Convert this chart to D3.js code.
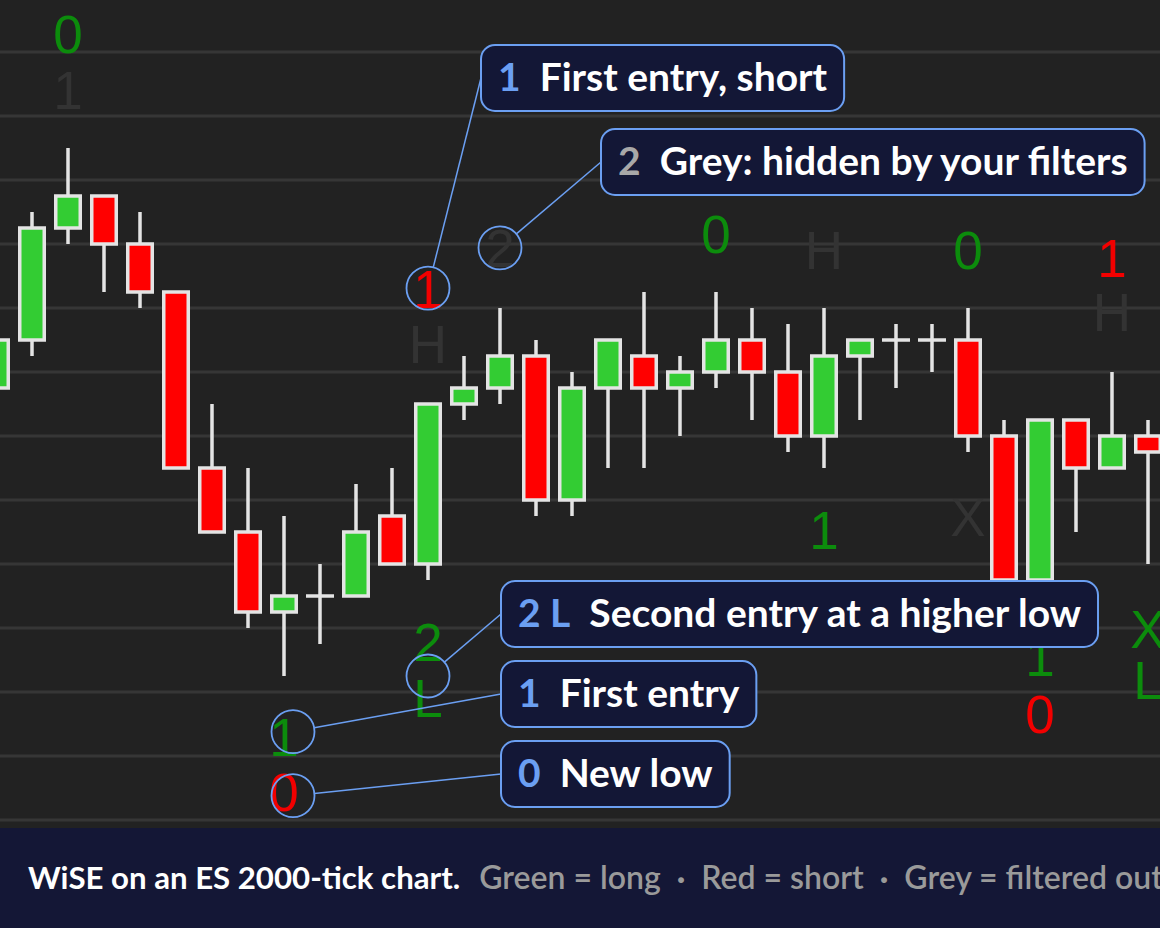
<!DOCTYPE html>
<meta charset="utf-8">
<title>WiSE on an ES 2000-tick chart</title>
<script src="https://cdn.jsdelivr.net/npm/d3@7"></script>
<style>
  body { margin: 0; background: #222222; overflow: hidden; }
  svg { display: block; }
</style>
<body>
<div id="chart"></div>
<script>
// ES 2000-tick bars, prices (0.25 = one tick)
var open  = [4496.75, 4497.50, 4499.25, 4499.75, 4499.00, 4498.25, 4495.50, 4494.50, 4493.25, 4493.50,
             4493.50, 4494.75, 4494.00, 4496.50, 4496.75, 4497.25, 4495.00, 4496.75, 4497.25, 4496.75,
             4497.00, 4497.50, 4497.00, 4496.00, 4497.25, 4497.50, 4497.50, 4497.50, 4496.00, 4493.75,
             4496.25, 4495.50, 4496.00];
var high  = [4497.75, 4499.50, 4500.50, 4499.75, 4499.50, 4498.25, 4496.50, 4495.50, 4494.75, 4494.00,
             4495.25, 4495.50, 4496.50, 4497.25, 4498.00, 4497.50, 4497.00, 4497.50, 4498.25, 4497.25,
             4498.25, 4498.00, 4497.75, 4498.00, 4497.50, 4497.75, 4497.75, 4498.00, 4496.25, 4496.25,
             4496.25, 4497.00, 4496.25];
var low   = [4496.50, 4497.25, 4499.00, 4498.25, 4498.00, 4495.50, 4494.50, 4493.00, 4492.25, 4492.75,
             4493.50, 4494.00, 4493.75, 4496.25, 4496.50, 4494.75, 4494.75, 4495.50, 4495.50, 4496.00,
             4496.75, 4496.25, 4495.75, 4495.50, 4496.25, 4496.75, 4497.00, 4495.75, 4493.50, 4493.25,
             4494.50, 4495.50, 4494.00];
var close = [4497.50, 4499.25, 4499.75, 4499.00, 4498.25, 4495.50, 4494.50, 4493.25, 4493.50, 4493.50,
             4494.50, 4494.00, 4496.50, 4496.75, 4497.25, 4495.00, 4496.75, 4497.50, 4496.75, 4497.00,
             4497.50, 4497.00, 4496.00, 4497.25, 4497.50, 4497.50, 4497.50, 4496.00, 4493.75, 4496.25,
             4495.50, 4496.00, 4495.75];

// WiSE setup labels printed on the chart
var labelBar   = [2, 2, 12, 12, 14, 20, 23, 27, 31, 31, 23, 27, 32, 32, 29, 29, 12, 12, 8, 8];
var labelPrice = [4502.28, 4501.40, 4498.30, 4497.43, 4498.94, 4499.15, 4498.90, 4498.90, 4498.78, 4497.93,
                  4494.53, 4494.73, 4492.98, 4492.18, 4492.55, 4491.65, 4492.78, 4491.90, 4491.30, 4490.43];
var labelText  = ["0", "1", "1", "H", "2", "0", "H", "0", "1", "H",
                  "1", "X", "X", "L", "1", "0", "2", "L", "1", "0"];
var labelKind  = ["long", "grey", "short", "grey", "grey", "long", "grey", "long", "short", "grey",
                  "long", "grey", "long", "long", "long", "short", "long", "long", "long", "short"];

// callouts: circled point on the chart and the explanation box
var calloutBar   = [12, 14, 12, 8.25, 8.25];
var calloutPrice = [4498.31, 4498.94, 4492.25, 4491.38, 4490.38];
var calloutNum   = ["1", "2", "2 L", "1", "0"];
var calloutNumGrey = [false, true, false, false, false];
var calloutText  = ["First entry, short", "Grey: hidden by your filters", "Second entry at a higher low",
                    "First entry", "New low"];

var caption = "WiSE on an ES 2000-tick chart.";
var legendParts = ["Green = long", "Red = short", "Grey = filtered out"];

// layout
var width = 1160, height = 928, bandTop = 828;
var boxPos = [[481, 45], [601, 129], [501, 581], [501, 661], [501, 741]];
var boxH = 66;

var colors = {
  bg: "#222222", grid: "#363636", up: "#33cc33", down: "#ff0000", edge: "#e4e4e4",
  long: "#0c8c0c", short: "#f20000", grey: "#333333",
  box: "#131736", blue: "#6b9ff2", band: "#141736"
};

var svg = d3.select("#chart")
  .append("svg")
    .attr("width", width)
    .attr("height", height);

svg.append("rect")
  .attr("width", width).attr("height", height)
  .attr("fill", colors.bg);

var x = d3.scaleLinear().domain([0, 32]).range([-4, 1148]);
var y = d3.scaleLinear().domain([4490, 4502]).range([820, 52]);

// horizontal grid, one line per point
svg.append("g")
  .selectAll("line")
  .data(d3.range(4490, 4503))
  .join("line")
    .attr("x1", 0).attr("x2", width)
    .attr("y1", function(d) { return y(d); })
    .attr("y2", function(d) { return y(d); })
    .attr("stroke", colors.grid)
    .attr("stroke-width", 3);

var bars = d3.range(open.length).map(function(i) {
  return { i: i, o: open[i], h: high[i], l: low[i], c: close[i] };
});

var candle = svg.append("g").selectAll("g")
  .data(bars)
  .join("g");

// wicks
candle.append("line")
  .attr("x1", function(d) { return x(d.i); })
  .attr("x2", function(d) { return x(d.i); })
  .attr("y1", function(d) { return y(d.h); })
  .attr("y2", function(d) { return y(d.l); })
  .attr("stroke", colors.edge)
  .attr("stroke-width", 3.5);

// bodies (doji drawn as a flat bar)
var bw = 24.5;
candle.filter(function(d) { return d.o !== d.c; })
  .append("rect")
    .attr("x", function(d) { return x(d.i) - bw / 2; })
    .attr("width", bw)
    .attr("y", function(d) { return y(Math.max(d.o, d.c)); })
    .attr("height", function(d) { return Math.abs(y(d.o) - y(d.c)); })
    .attr("fill", function(d) { return d.c > d.o ? colors.up : colors.down; })
    .attr("stroke", colors.edge)
    .attr("stroke-width", 3.5);

candle.filter(function(d) { return d.o === d.c; })
  .append("line")
    .attr("x1", function(d) { return x(d.i) - 14; })
    .attr("x2", function(d) { return x(d.i) + 14; })
    .attr("y1", function(d) { return y(d.o); })
    .attr("y2", function(d) { return y(d.o); })
    .attr("stroke", colors.edge)
    .attr("stroke-width", 3.5);

// setup labels
svg.append("g")
  .selectAll("text")
  .data(labelText)
  .join("text")
    .attr("x", function(d, i) { return x(labelBar[i]); })
    .attr("y", function(d, i) { return y(labelPrice[i]) + 19; })
    .attr("text-anchor", "middle")
    .attr("font-family", "'Liberation Sans', Arial, sans-serif")
    .attr("font-size", 53)
    .attr("fill", function(d, i) { return colors[labelKind[i]]; })
    .text(function(d) { return d; });

// callouts
var r = 21.5;
var co = svg.append("g");
calloutText.forEach(function(txt, i) {
  var cx = x(calloutBar[i]), cy = y(calloutPrice[i]);
  var bx = boxPos[i][0], by = boxPos[i][1];
  var tx = bx, ty = by + boxH / 2;
  var dx = tx - cx, dy = ty - cy, len = Math.sqrt(dx * dx + dy * dy);

  co.append("line")
    .attr("x1", cx + r * dx / len).attr("y1", cy + r * dy / len)
    .attr("x2", tx).attr("y2", ty)
    .attr("stroke", colors.blue)
    .attr("stroke-width", 1.5);

  co.append("circle")
    .attr("cx", cx).attr("cy", cy).attr("r", r)
    .attr("fill", "none")
    .attr("stroke", colors.blue)
    .attr("stroke-width", 1.8);

  var box = co.append("rect")
    .attr("x", bx).attr("y", by)
    .attr("height", boxH)
    .attr("rx", 14)
    .attr("fill", colors.box)
    .attr("stroke", colors.blue)
    .attr("stroke-width", 2);

  var num = co.append("text")
    .attr("x", bx + 17).attr("y", by + 46)
    .attr("font-family", "Lato, 'Noto Sans', sans-serif")
    .attr("font-weight", 700)
    .attr("font-size", 39)
    .attr("fill", calloutNumGrey[i] ? "#a8a8a8" : colors.blue)
    .text(calloutNum[i]);
  var numW = num.node().getComputedTextLength();

  var lab = co.append("text")
    .attr("x", bx + 17 + numW + 19).attr("y", by + 46)
    .attr("font-family", "Lato, 'Noto Sans', sans-serif")
    .attr("font-weight", 700)
    .attr("font-size", 39)
    .attr("fill", "#ffffff")
    .text(txt);
  var labW = lab.node().getComputedTextLength();

  box.attr("width", 17 + numW + 19 + labW + 17);
});

// caption band
svg.append("rect")
  .attr("x", 0).attr("y", bandTop)
  .attr("width", width).attr("height", height - bandTop)
  .attr("fill", colors.band);

var cap = svg.append("text")
  .attr("x", 28).attr("y", 889)
  .attr("font-family", "Lato, 'Noto Sans', sans-serif")
  .attr("font-size", 31.2);

cap.append("tspan")
  .attr("font-weight", 700)
  .attr("fill", "#ffffff")
  .text(caption);

legendParts.forEach(function(p, i) {
  if (i > 0) {
    cap.append("tspan").attr("dx", 16).attr("fill", "#9a9a9a").attr("font-weight", 700).text("·");
  }
  cap.append("tspan")
    .attr("dx", i === 0 ? 19 : 16)
    .attr("fill", "#9a9a9a")
    .attr("font-weight", 600)
    .attr("font-size", 32)
    .text(p);
});
</script>
</body>
